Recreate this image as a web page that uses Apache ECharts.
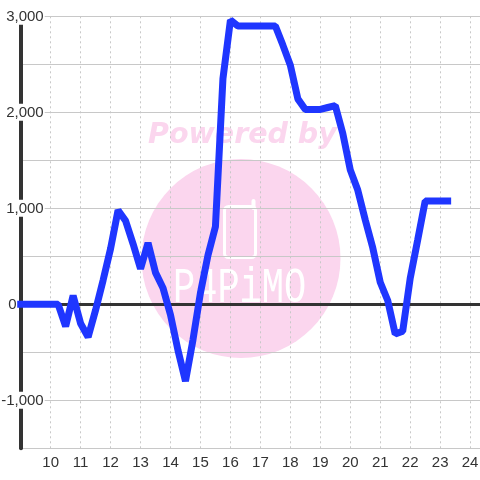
<!DOCTYPE html>
<html><head><meta charset="utf-8">
<style>html,body{margin:0;padding:0;background:#fff}#c{width:480px;height:480px}</style>
<script src="https://cdn.jsdelivr.net/npm/echarts@6/dist/echarts.min.js"></script>
</head><body><div id="c"></div>
<script>
const hours = [9,9.25,9.5,9.75,10,10.25,10.5,10.75,11,11.25,11.5,11.75,12,12.25,12.5,12.75,13,13.25,13.5,13.75,14,14.25,14.5,14.75,15,15.25,15.5,15.75,16,16.25,16.5,16.75,17,17.25,17.5,17.75,18,18.25,18.5,18.75,19,19.25,19.5,19.75,20,20.25,20.5,20.75,21,21.25,21.5,21.75,22,22.25,22.5,22.75,23,23.25];
const values = [0,0,0,0,0,0,-230,90,-200,-340,-60,250,580,980,870,630,370,640,330,170,-110,-480,-800,-370,120,510,810,2350,2960,2900,2900,2900,2900,2900,2900,2700,2490,2140,2030,2030,2030,2050,2070,1780,1400,1190,880,590,230,40,-310,-280,270,670,1075,1075,1075,1075];
const pink = '#fbd6ee';
const chart = echarts.init(document.getElementById('c'), null, {renderer:'canvas'});
const labelFont = {fontFamily:'"Liberation Sans",Arial,sans-serif', fontSize:15, color:'#333'};
chart.setOption({
  animation:false,
  backgroundColor:'#fff',
  grid:{left:20.7,right:0,top:16.3,bottom:31.7,containLabel:false,outerBoundsMode:'none'},
  graphic:{elements:[
    {type:'circle',z:-10,silent:true,shape:{cx:241,cy:258.5,r:99.5},style:{fill:pink}},
    {type:'text',z:-9,silent:true,x:148,y:121,style:{text:'Powered by',fill:pink,font:'italic bold 28.5px "DejaVu Sans"'}},
    {type:'rect',z:-9,silent:true,shape:{x:224.5,y:206.5,width:31,height:51,r:4},style:{fill:'none',stroke:'#fff',lineWidth:3}},
    {type:'line',z:-9,silent:true,shape:{x1:253.5,y1:201,x2:253.5,y2:208},style:{stroke:'#fff',lineWidth:4,lineCap:'round'}},
    {type:'text',z:-9,silent:true,x:173,y:264,scaleX:0.74,style:{text:'P4PiMO',fill:'#fff',font:'400 50px "Liberation Mono"'}}
  ]},
  xAxis:[
    {type:'value',min:9,max:24.33,interval:1,position:'bottom',
     axisLine:{show:false,onZero:false},axisTick:{show:false},
     axisLabel:{...labelFont,margin:7,showMinLabel:false,showMaxLabel:false,hideOverlap:false,
       formatter:v=>Number.isInteger(v)&&v>9?String(v):''},
     splitLine:{show:true,showMinLine:false,showMaxLine:false,lineStyle:{color:'#c8c8c8',width:1,type:[2,3]}}},
    {type:'value',min:9,max:24.33,interval:1,position:'bottom',
     axisLine:{show:true,onZero:true,lineStyle:{color:'#333',width:3}},axisTick:{show:false},axisLabel:{show:false},splitLine:{show:false}}
  ],
  yAxis:{type:'value',min:-1500,max:3000,interval:500,position:'left',
    axisLine:{show:true,onZero:false,lineStyle:{color:'#333',width:4}},axisTick:{show:false},
    axisLabel:{...labelFont,margin:-24,align:'right',verticalAlign:'middle',
      formatter:v=>v===0?'{z|0}':(v%1000===0?'{a|'+v.toLocaleString('en-US')+'}':''),
      rich:{
        a:{...labelFont,backgroundColor:'#fff',lineHeight:16,padding:[2,1,0,2]},
        z:{...labelFont,lineHeight:16,padding:[2,28,0,0]}
      }},
    splitLine:{show:true,lineStyle:{color:'#c8c8c8',width:1,type:'solid'}}},
  series:[{type:'line',xAxisIndex:0,yAxisIndex:0,z:5,clip:false,showSymbol:false,symbol:'none',
    lineStyle:{color:'#1f36ff',width:7,cap:'square',join:'bevel'},
    data:hours.map((h,i)=>[h,values[i]])}]
});
</script></body></html>
